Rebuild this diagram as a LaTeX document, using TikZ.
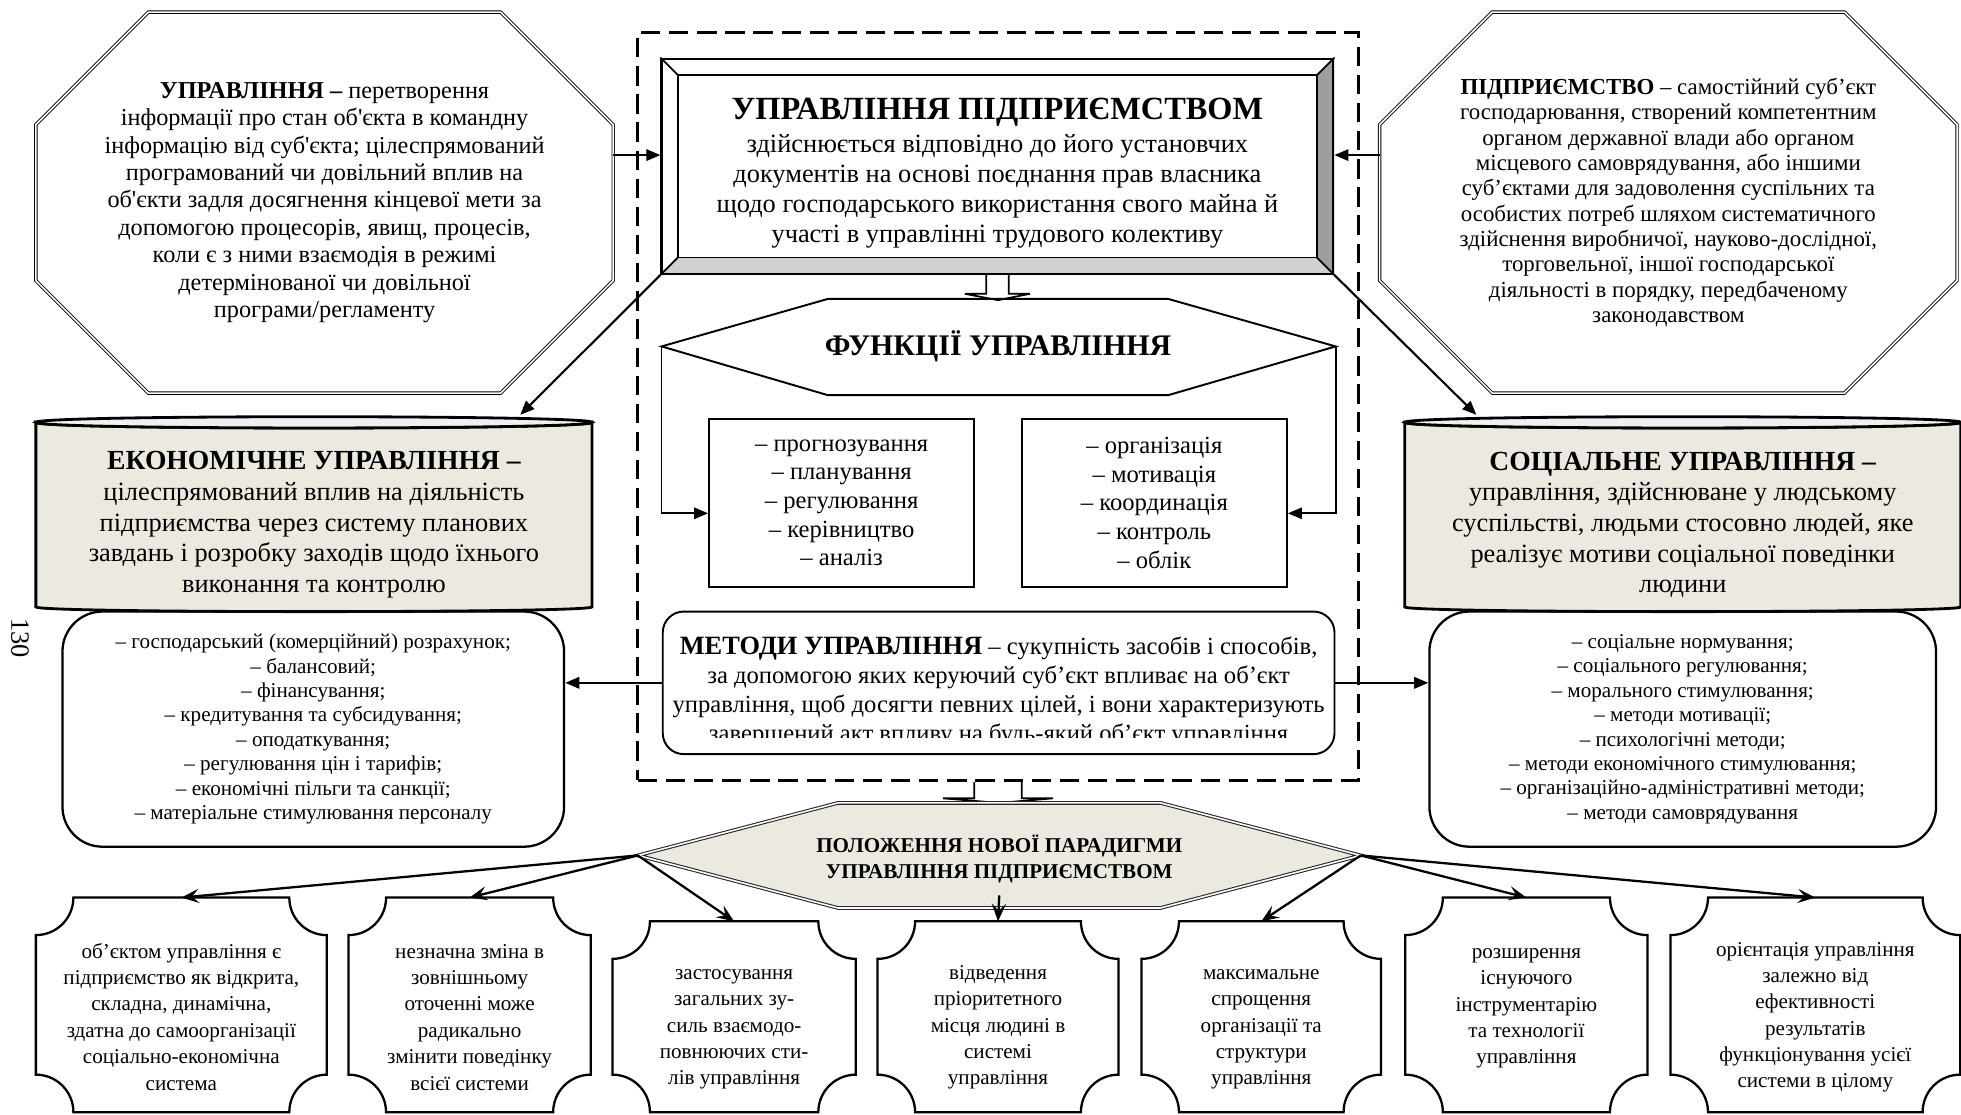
\documentclass[tikz,border=0pt]{standalone}
\usepackage{fontspec}
\setmainfont{Liberation Serif}
\usetikzlibrary{arrows.meta,backgrounds}

\definecolor{beige}{RGB}{236,234,224}
\definecolor{bevdark}{RGB}{158,158,158}
\definecolor{bevlight}{RGB}{208,208,208}

% octagon round a named node
\newcommand\octbox[1]{%
  \draw[octline] ([shift={(90,0)}]#1.north west) -- ([shift={(-90,0)}]#1.north east) -- ([shift={(0,90)}]#1.north east)
    -- ([shift={(0,-90)}]#1.south east) -- ([shift={(-90,0)}]#1.south east) -- ([shift={(90,0)}]#1.south west)
    -- ([shift={(0,-90)}]#1.south west) -- ([shift={(0,90)}]#1.north west) -- cycle;}
% box with concave corners, drawn round a named node
\newcommand\plaquebox[1]{%
  \draw[plaque] ([shift={(30,0)}]#1.north west) -- ([shift={(-30,0)}]#1.north east)
    .. controls +(0,16.6) and +(-16.6,0) .. ([shift={(0,30)}]#1.north east)
    -- ([shift={(0,-30)}]#1.south east)
    .. controls +(-16.6,0) and +(0,-16.6) .. ([shift={(-30,0)}]#1.south east)
    -- ([shift={(30,0)}]#1.south west)
    .. controls +(0,-16.6) and +(16.6,0) .. ([shift={(0,-30)}]#1.south west)
    -- ([shift={(0,30)}]#1.north west)
    .. controls +(16.6,0) and +(0,16.6) .. ([shift={(30,0)}]#1.north west) -- cycle;}
\newcommand\toppad[1]{\rule{0pt}{#1}}

\begin{document}
\begin{tikzpicture}[x=0.025cm, y=-0.025cm, >={Triangle[length=8pt,width=6.5pt]},
  every node/.style={align=center, inner sep=0pt},
  octa/.style={minimum width=11.525cm, minimum height=7.6cm},
  octline/.style={line width=0.5pt, double=white, double distance=0.9pt},
  dashframe/.style={draw, line width=1.8pt, dash pattern=on 11pt off 5pt, minimum width=14.4cm, minimum height=14.95cm},
  funcbox/.style={draw, line width=1.1pt, minimum width=5.3cm, minimum height=3.35cm, font=\fontsize{14}{16.3}\selectfont},
  cyl/.style={minimum width=11.1cm, minimum height=3.675cm, font=\fontsize{15}{17.4}\selectfont},
  cylline/.style={line width=1.6pt},
  listbox/.style={draw, line width=1.3pt, rounded corners=0.8cm, minimum height=4.7cm, font=\fontsize{12}{13.9}\selectfont},
  pbox/.style={minimum height=4.275cm, font=\fontsize{12}{15}\selectfont},
  pboxlow/.style={pbox, minimum height=3.8cm},
  plaque/.style={line width=1.3pt},
  conn/.style={->, line width=1.2pt},
  barb/.style={-{Stealth[length=10pt,width=8pt,inset=4pt]}, line width=1.3pt},
  hollow/.style={draw, fill=white, line width=1pt}]
\useasboundingbox (0,0) rectangle (1568,891);

\node[dashframe] (frame) at (798,325) {};

% definitions
\node[octa, font=\fontsize{13.8}{15.6}\selectfont] (def) at (259.5,162) {\textbf{УПРАВЛІННЯ –} перетворення\\
інформації про стан об\textquotesingle єкта в командну\\
інформацію від суб\textquotesingle єкта; цілеспрямований\\
програмований чи довільний вплив на\\
об\textquotesingle єкти задля досягнення кінцевої мети за\\
допомогою процесорів, явищ, процесів,\\
коли є з ними взаємодія в режимі\\
детермінованої чи довільної\\
програми/регламенту};
\node[octa, font=\fontsize{13}{14.4}\selectfont] (ent) at (1334,162) {\textbf{ПІДПРИЄМСТВО} – самостійний суб’єкт\\
господарювання, створений компетентним\\
органом державної влади або органом\\
місцевого самоврядування, або іншими\\
суб’єктами для задоволення суспільних та\\
особистих потреб шляхом систематичного\\
здійснення виробничої, науково-дослідної,\\
торговельної, іншої господарської\\
діяльності в порядку, передбаченому\\
законодавством};
\octbox{def}
\octbox{ent}

% central box
\node[draw, line width=1.3pt, minimum width=13.425cm, minimum height=4.3cm, font=\fontsize{15}{17}\selectfont] (mgmt) at (797.5,133)
  {\toppad{20pt}{\fontsize{18.4}{20}\selectfont\bfseries УПРАВЛІННЯ ПІДПРИЄМСТВОМ}\\[2pt]
  здійснюється відповідно до його установчих\\
  документів на основі поєднання прав власника\\
  щодо господарського використання свого майна й\\
  участі в управлінні трудового колективу};
\begin{scope}[on background layer]
\fill[bevdark] (mgmt.north east) -- (mgmt.south east) -- ([shift={(-14,-14)}]mgmt.south east) -- ([shift={(-14,14)}]mgmt.north east) -- cycle;
\fill[bevlight] (mgmt.south west) -- (mgmt.south east) -- ([shift={(-14,-14)}]mgmt.south east) -- ([shift={(14,-14)}]mgmt.south west) -- cycle;
\end{scope}
\draw[line width=1pt] ([shift={(14,14)}]mgmt.north west) rectangle ([shift={(-14,-14)}]mgmt.south east);
\foreach \c/\dx/\dy in {north west/14/14,north east/-14/14,south west/14/-14,south east/-14/-14}
  \draw[line width=1pt] (mgmt.\c) -- ([shift={(\dx,\dy)}]mgmt.\c);

\coordinate (defout) at ([shift={(0,-38)}]def.east);
\coordinate (entout) at ([shift={(0,-38)}]ent.west);
\draw[conn] (defout) -- (defout -| mgmt.west);
\draw[conn] (entout) -- (entout -| mgmt.east);

% functions
\coordinate (funcW) at (529,277);
\coordinate (funcE) at (1068,277);
\coordinate (funcN) at (798,240);
\draw[hollow] ([shift={(-9,0)}]mgmt.south) -- ([shift={(-9,15)}]mgmt.south) -- ([shift={(-26,15)}]mgmt.south) -- (funcN)
  -- ([shift={(26,15)}]mgmt.south) -- ([shift={(9,15)}]mgmt.south) -- ([shift={(9,0)}]mgmt.south);
\draw[line width=1.1pt] (funcW) -- (662,239) -- (934,239) -- (funcE) -- (934,316) -- (662,316) -- cycle;
\node[font=\fontsize{17}{19}\selectfont\bfseries] (func) at (798,277) {ФУНКЦІЇ УПРАВЛІННЯ};
\node[funcbox] (fl) at (673,402) {– прогнозування\\– планування\\– регулювання\\– керівництво\\– аналіз};
\node[funcbox] (fr) at (923,402) {– організація\\– мотивація\\– координація\\– контроль\\– облік};
\draw[conn, line width=1pt] (funcW) |- ([yshift=-6pt]fl.west);
\draw[conn, line width=1pt] (funcE) |- ([yshift=-6pt]fr.east);

% methods
\node[draw, line width=1.1pt, rounded corners=0.42cm, minimum width=13.425cm, minimum height=2.85cm] (meth) at (798.5,546) {};
\begin{scope}
\clip (meth.north west) rectangle ([shift={(0,-14)}]meth.south east);
\node[font=\fontsize{14}{16.4}\selectfont] (methtext) at (798.5,553)
  {{\fontsize{15}{16}\selectfont\bfseries МЕТОДИ УПРАВЛІННЯ} – сукупність засобів і способів,\\
  за допомогою яких керуючий суб’єкт впливає на об’єкт\\
  управління, щоб досягти певних цілей, і вони характеризують\\
  завершений акт впливу на будь-який об’єкт управління};
\end{scope}

% economic and social management
\node[cyl] (econ) at (251,411.5) {\toppad{22pt}{\fontsize{15.7}{17.4}\selectfont\bfseries ЕКОНОМІЧНЕ УПРАВЛІННЯ –}\\
цілеспрямований вплив на діяльність\\
підприємства через систему планових\\
завдань і розробку заходів щодо їхнього\\
виконання та контролю};
\node[cyl] (soc) at (1345.5,411.5) {\toppad{22pt}{\fontsize{15.7}{17.4}\selectfont\bfseries СОЦІАЛЬНЕ УПРАВЛІННЯ –}\\
управління, здійснюване у людському\\
суспільстві, людьми стосовно людей, яке\\
реалізує мотиви соціальної поведінки\\
людини};
\begin{scope}[on background layer]
\foreach \n in {econ,soc} {
  \draw[cylline, fill=beige] (\n.north west) -- (\n.south west) .. controls +(0,5) and +(0,5) .. (\n.south east)
    -- (\n.north east) .. controls +(0,6) and +(0,6) .. (\n.north west) -- cycle;
  \draw[cylline, fill=black!6] (\n.north west) .. controls +(0,-6) and +(0,-6) .. (\n.north east)
    .. controls +(0,6) and +(0,6) .. (\n.north west) -- cycle;
}
\end{scope}
\draw[conn] (mgmt.south west) -- ([shift={(165,-6)}]econ.north);
\draw[conn] (mgmt.south east) -- ([shift={(-165,-6)}]soc.north);

\node[listbox, minimum width=10.025cm] (econlist) at (250.5,583) {– господарський (комерційний) розрахунок;\\
– балансовий;\\
– фінансування;\\
– кредитування та субсидування;\\
– оподаткування;\\
– регулювання цін і тарифів;\\
– економічні пільги та санкції;\\
– матеріальне стимулювання персоналу};
\node[listbox, minimum width=10.125cm] (soclist) at (1345.5,583) {– соціальне нормування;\\
– соціального регулювання;\\
– морального стимулювання;\\
– методи мотивації;\\
– психологічні методи;\\
– методи економічного стимулювання;\\
– організаційно-адміністративні методи;\\
– методи самоврядування};
\draw[conn] (meth.west) -- (meth.west -| econlist.east);
\draw[conn] (meth.east) -- (meth.east -| soclist.west);

\node[rotate=-90, font=\fontsize{15}{15}\selectfont] (page) at (16,510) {130};

% new paradigm
\coordinate (paraW) at (510,684);
\coordinate (paraE) at (1088,684);
\coordinate (paraN) at (799,642);
\coordinate (paraS) at (799,716);
\draw[hollow] ([shift={(-19,0)}]frame.south) -- ([shift={(-19,13)}]frame.south) -- ([shift={(-44,13)}]frame.south) -- (paraN)
  -- ([shift={(44,13)}]frame.south) -- ([shift={(19,13)}]frame.south) -- ([shift={(19,0)}]frame.south);
\draw[draw=black!85, line width=0.6pt, double=white, double distance=0.9pt, fill=beige]
  (paraW) -- (670,642) -- (928,642) -- (paraE) -- (928,726) -- (670,726) -- cycle;
\node[font=\fontsize{12}{15}\selectfont\bfseries] (para) at (799,687) {ПОЛОЖЕННЯ НОВОЇ ПАРАДИГМИ\\УПРАВЛІННЯ ПІДПРИЄМСТВОМ};

\node[pbox, minimum width=5.8cm] (b1) at (145,803.5) {\toppad{22pt}об’єктом управління є\\підприємство як відкрита,\\складна, динамічна,\\здатна до самоорганізації\\соціально-економічна\\система};
\node[pbox, minimum width=4.825cm] (b2) at (375.5,803.5) {\toppad{22pt}незначна зміна в\\зовнішньому\\оточенні може\\радикально\\змінити поведінку\\всієї системи};
\node[pboxlow, minimum width=4.85cm] (b3) at (587,813) {\toppad{20pt}застосування\\загальних зу-\\силь взаємодо-\\повнюючих сти-\\лів управління};
\node[pboxlow, minimum width=4.8cm] (b4) at (798,813) {\toppad{20pt}відведення\\пріоритетного\\місця людині в\\системі\\управління};
\node[pboxlow, minimum width=4.775cm] (b5) at (1008.5,813) {\toppad{20pt}максимальне\\спрощення\\організації та\\структури\\управління};
\node[pbox, minimum width=4.825cm] (b6) at (1220.5,803.5) {\toppad{22pt}розширення\\існуючого\\інструментарію\\та технології\\управління\\\mbox{}};
\node[pbox, minimum width=5.775cm] (b7) at (1451.5,803.5) {\toppad{22pt}орієнтація управління\\залежно від\\ефективності\\результатів\\функціонування усієї\\системи в цілому};
\foreach \i in {1,...,7} \plaquebox{b\i};

\foreach \b in {b1,b2,b3} \draw[barb] (paraW) -- (\b.north);
\draw[barb] (paraS) -- (b4.north);
\foreach \b in {b5,b6,b7} \draw[barb] (paraE) -- (\b.north);
\end{tikzpicture}
\end{document}
